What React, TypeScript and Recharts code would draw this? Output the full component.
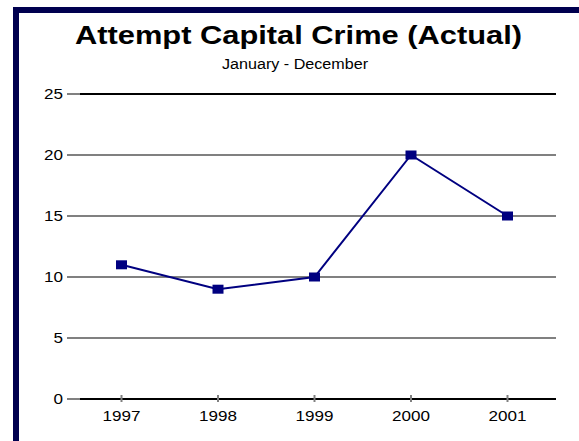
import React from "react";
import {
  LineChart,
  Line,
  XAxis,
  YAxis,
  CartesianGrid,
  ReferenceLine,
} from "recharts";

const years = ["1997", "1998", "1999", "2000", "2001"];
const crimes = [11, 9, 10, 20, 15];
const yTicks = [0, 5, 10, 15, 20, 25];
const titleText = "Attempt Capital Crime (Actual)";
const subtitleText = "January - December";

const data = years.map((year, i) => ({ year, value: crimes[i] }));

const FONT = "'Liberation Sans', Arial, sans-serif";
const SX = 1.22;

const YTick = (props: any) => {
  const { x, y, payload } = props;
  return (
    <text
      transform={`translate(${x},${y}) scale(${SX},1)`}
      textAnchor="end"
      dy="0.355em"
      fontSize={14}
      fontFamily={FONT}
      fill="#000"
    >
      {payload.value}
    </text>
  );
};

const XTick = (props: any) => {
  const { x, y, payload } = props;
  return (
    <g>
      <line x1={x} x2={x} y1={y - 4} y2={y + 3} stroke="#808080" strokeWidth={2} />
      <text
        transform={`translate(${x},${y + 22}) scale(${SX},1)`}
        textAnchor="middle"
        fontSize={14}
        fontFamily={FONT}
        fill="#000"
      >
        {payload.value}
      </text>
    </g>
  );
};

const SquareDot = (props: any) => {
  const { cx, cy } = props;
  if (cx == null || cy == null) return null;
  return <rect x={cx - 5.5} y={cy - 4.5} width={11} height={9} fill="#000080" />;
};

export default function App() {
  return (
    <div
      style={{
        position: "absolute",
        left: 0,
        top: 0,
        width: 579,
        height: 441,
        background: "#fff",
        overflow: "hidden",
      }}
    >
      <div
        style={{
          position: "absolute",
          left: 13,
          top: 7,
          width: 700,
          height: 600,
          borderTop: "6px solid #00004f",
          borderLeft: "6px solid #00004f",
          boxSizing: "border-box",
        }}
      />
      <div style={{ position: "absolute", left: 0, top: 0 }}>
        <LineChart
          width={579}
          height={441}
          data={data}
          margin={{ top: 94, right: 23, bottom: 12, left: 20 }}
        >
          <CartesianGrid horizontal vertical={false} stroke="#808080" strokeWidth={2} />
          <ReferenceLine y={25} stroke="#000" strokeWidth={2} />
          <ReferenceLine y={0} stroke="#000" strokeWidth={2} />
          <XAxis
            dataKey="year"
            height={30}
            padding={{ left: 41.5, right: 48.5 }}
            axisLine={{ stroke: "#000", strokeWidth: 2 }}
            tickLine={false}
            tickSize={0}
            tickMargin={0}
            tick={<XTick />}
            interval={0}
          />
          <YAxis
            width={60}
            domain={[0, 25]}
            ticks={yTicks}
            axisLine={false}
            tickLine={{ stroke: "#808080", strokeWidth: 2 }}
            tickSize={13}
            tickMargin={4}
            tick={<YTick />}
            interval={0}
          />
          <Line
            dataKey="value"
            stroke="#000080"
            strokeWidth={2}
            dot={<SquareDot />}
            activeDot={false}
            isAnimationActive={false}
          />
        </LineChart>
      </div>
      <svg
        width={579}
        height={441}
        style={{ position: "absolute", left: 0, top: 0, pointerEvents: "none" }}
      >
        <text
          x={298.5}
          y={43.5}
          textAnchor="middle"
          fontSize={26}
          fontWeight="bold"
          fontFamily={FONT}
          textLength={447}
          lengthAdjust="spacingAndGlyphs"
          fill="#000"
        >
          {titleText}
        </text>
        <text
          x={295}
          y={69}
          textAnchor="middle"
          fontSize={14}
          fontFamily={FONT}
          textLength={146}
          lengthAdjust="spacingAndGlyphs"
          fill="#000"
        >
          {subtitleText}
        </text>
      </svg>
    </div>
  );
}
